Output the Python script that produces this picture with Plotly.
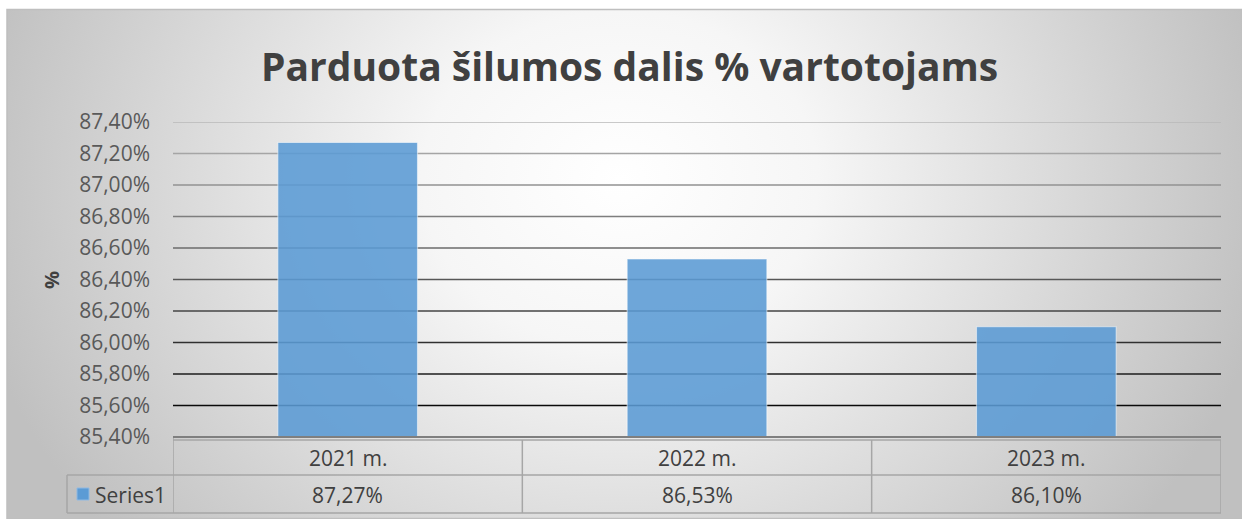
import base64
import plotly.graph_objects as go

# ---- data ----
categories = ["2021 m.", "2022 m.", "2023 m."]
values = [87.27, 86.53, 86.10]
series_name = "Series1"
tick_values = [85.40, 85.60, 85.80, 86.00, 86.20, 86.40, 86.60, 86.80, 87.00, 87.20, 87.40]
tick_labels = ["85,40%", "85,60%", "85,80%", "86,00%", "86,20%", "86,40%",
               "86,60%", "86,80%", "87,00%", "87,20%", "87,40%"]
title_text = "Parduota šilumos dalis % vartotojams"
y_title = "%"

W, H = 1242, 519
L, R, T, B = 173, 21, 122, 82
PW, PH = W - L - R, H - T - B

def px_x(xp):
    return (xp - L) / PW

def px_y(yp):
    return (H - B - yp) / PH

FONT = "Open Sans"
TXT = "#404040"
BAR = "#5b9bd5"
TBL = "#a6a6a6"

# radial gradient background (chart area box 7..1242 x 9..518)
bw, bh = 1235, 509
svg = (
    f"<svg xmlns='http://www.w3.org/2000/svg' width='{bw}' height='{bh}' viewBox='0 0 {bw} {bh}' preserveAspectRatio='none'>"
    "<defs><radialGradient id='g' gradientUnits='userSpaceOnUse' cx='0' cy='0' r='1' "
    "gradientTransform='translate(613,170) scale(660,560)'>"
    "<stop offset='0' stop-color='#ffffff'/><stop offset='0.3' stop-color='#f6f6f6'/>"
    "<stop offset='1' stop-color='#c0c0c0'/></radialGradient></defs>"
    f"<rect x='0' y='0' width='{bw}' height='{bh}' fill='url(#g)'/></svg>"
)
src = "data:image/svg+xml;base64," + base64.b64encode(svg.encode()).decode()

fig = go.Figure()
fig.add_trace(go.Bar(
    x=categories, y=values, width=0.4, name=series_name,
    marker=dict(color=BAR, opacity=0.88, line=dict(color="rgba(255,255,255,0.55)", width=1.2)),
    showlegend=False, hoverinfo="skip",
))

shapes = []
# gridlines, gradient from light grey (top) to black (bottom)
n = len(tick_values)
for i, tv in enumerate(tick_values[1:], start=1):
    f = (i - 1) / (n - 2)
    c = int(10 + f * (185 - 10))
    shapes.append(dict(type="line", xref="paper", yref="y", x0=0, x1=1, y0=tv, y1=tv,
                       line=dict(color=f"rgb({c},{c},{c})", width=1.6), layer="below"))

# chart border
shapes.append(dict(type="rect", xref="paper", yref="paper",
                   x0=px_x(7), x1=px_x(1242.5), y0=px_y(518.5), y1=px_y(9.5),
                   line=dict(color="#bfbfbf", width=1.5), layer="below"))

# axis line / table
shapes.append(dict(type="line", xref="paper", yref="paper", x0=0, x1=1, y0=0, y1=0,
                   line=dict(color="#7f7f7f", width=2)))
shapes.append(dict(type="line", xref="paper", yref="paper", x0=0, x1=1, y0=px_y(440), y1=px_y(440),
                   line=dict(color=TBL, width=1.5)))
for yy in (475, 513):
    shapes.append(dict(type="line", xref="paper", yref="paper", x0=px_x(67), x1=1, y0=px_y(yy), y1=px_y(yy),
                       line=dict(color=TBL, width=1.5)))
shapes.append(dict(type="line", xref="paper", yref="paper", x0=px_x(67), x1=px_x(67),
                   y0=px_y(475), y1=px_y(513), line=dict(color=TBL, width=1.5)))
for k in range(len(categories) + 1):
    shapes.append(dict(type="line", xref="x", yref="paper", x0=k - 0.5, x1=k - 0.5,
                       y0=px_y(438 if k == 0 else 440), y1=px_y(513), line=dict(color=TBL, width=1.5)))

annotations = []
for cat, v in zip(categories, values):
    annotations.append(dict(x=cat, xref="x", y=px_y(457.5), yref="paper", text=cat, showarrow=False,
                            font=dict(family=FONT, size=21, color=TXT), xanchor="center", yanchor="middle"))
    annotations.append(dict(x=cat, xref="x", y=px_y(494.5), yref="paper",
                            text=f"{v:.2f}%".replace(".", ","), showarrow=False,
                            font=dict(family=FONT, size=21, color=TXT), xanchor="center", yanchor="middle"))
# legend key of the data table
shapes.append(dict(type="rect", xref="paper", yref="paper", x0=px_x(77), x1=px_x(89),
                   y0=px_y(500), y1=px_y(488), fillcolor=BAR, line=dict(color="#8fb9e3", width=1)))
annotations.append(dict(x=px_x(93), xref="paper", y=px_y(494.5), yref="paper",
                        text=series_name, showarrow=False,
                        font=dict(family=FONT, size=21, color=TXT), xanchor="left", yanchor="middle"))
annotations.append(dict(x=px_x(51), xref="paper", y=px_y(280), yref="paper", text=f"<b>{y_title}</b>",
                        textangle=-90, showarrow=False, font=dict(family=FONT, size=20, color=TXT),
                        xanchor="center", yanchor="middle"))
annotations.append(dict(x=px_x(629), xref="paper", y=px_y(66), yref="paper", text=f"<b>{title_text}</b>",
                        showarrow=False, font=dict(family=FONT, size=39, color=TXT),
                        xanchor="center", yanchor="middle"))

fig.update_layout(
    width=W, height=H,
    margin=dict(l=L, r=R, t=T, b=B, pad=0),
    paper_bgcolor="white", plot_bgcolor="rgba(0,0,0,0)",
    images=[dict(source=src, xref="paper", yref="paper", x=px_x(7), y=px_y(9),
                 sizex=(W - 7) / PW, sizey=(518 - 9) / PH, sizing="stretch",
                 xanchor="left", yanchor="top", layer="below")],
    shapes=shapes, annotations=annotations,
    xaxis=dict(range=[-0.5, len(categories) - 0.5], showticklabels=False, showgrid=False,
               zeroline=False, showline=False, fixedrange=True),
    yaxis=dict(range=[tick_values[0], tick_values[-1]], tickvals=tick_values, ticktext=tick_labels,
               showgrid=False, zeroline=False, showline=False, ticks="",
               ticklabelstandoff=22,
               tickfont=dict(family=FONT, size=21, color="#595959"), fixedrange=True),
    bargap=0.6,
)

fig.write_html("out.html")
